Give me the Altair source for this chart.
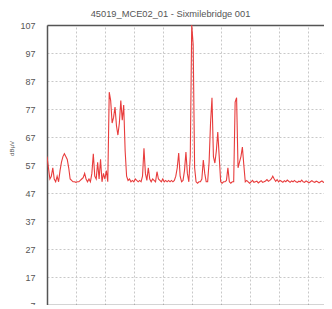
import altair as alt
import pandas as pd

TITLE = "45019_MCE02_01 - Sixmilebridge 001"
Y_TICKS = [7, 17, 27, 37, 47, 57, 67, 77, 87, 97, 107]

level_dbuv = [
    60, 56, 52, 53, 56, 52, 51, 53, 51, 55,
    58, 60, 61, 60, 59, 56, 52, 51.5, 51, 51,
    50.8, 51, 51, 51.5, 52, 52.5, 54, 52, 51, 52,
    51, 54, 61, 53, 52, 58, 52, 59, 51, 54,
    52, 55, 51, 83, 80, 72, 74, 77.7, 71, 67.7,
    72, 80, 73, 78.4, 62, 53, 51.5, 52, 51, 51.5,
    51, 52, 51.5, 51, 51.5, 51, 53, 63, 54, 51.5,
    56, 52, 51, 52, 51.5, 51, 54.6, 52, 51.5, 51,
    52, 51, 51.5, 51, 51.5, 51, 51.5, 51, 51.5, 53,
    56, 61.3, 53, 51, 51.5, 55, 61.6, 54, 51, 60,
    107, 100, 56, 51, 50.5, 51, 51, 52, 58.8, 54,
    51, 51, 58, 72, 81, 60, 57.7, 62, 68.8, 60,
    51, 50.5, 51, 51, 51.5, 56, 51, 50.5, 51, 51,
    79.5, 81, 56, 58, 60, 63.4, 57, 51, 51.5, 51,
    50.5, 51, 51.5, 50.8, 51, 51.2, 50.6, 51, 51.4, 50.8,
    51, 51.3, 51.8, 51.2, 51.5, 52, 53, 52, 51.2, 51.8,
    51, 51.5, 51.2, 50.8, 51.4, 51, 51.6, 51.2, 50.8, 51.3,
    51, 51.5, 51, 50.8, 51.2, 51, 51.6, 51, 50.8, 51.3,
    51, 50.6, 51, 51.4, 51, 50.8, 51.2, 51, 50.6, 51,
    51.3, 50.8, 51, 51.5, 52, 51.2, 51.6, 51,
]
sample = list(range(len(level_dbuv)))

df = pd.DataFrame({"sample": sample, "level": level_dbuv})

GRID = dict(grid=True, gridColor="#c8c8c8", gridDash=[2, 2], gridWidth=1)
DOMAIN = dict(domain=True, domainColor="#555555", domainWidth=1.5)

x_scale = alt.Scale(domain=[0, 191.4], nice=False, zero=False)
y_scale = alt.Scale(domain=[7, 107], nice=False, zero=False)

y_enc = alt.Y(
    "level:Q",
    scale=y_scale,
    title="dBµV",
    axis=alt.Axis(
        values=Y_TICKS,
        ticks=False,
        labelPadding=12,
        labelFontSize=9,
        labelColor="#555555",
        labelFont="Liberation Sans",
        titleFontSize=6,
        titleFont="Liberation Sans",
        titleColor="#555555",
        titleFontWeight="normal",
        titleX=-33,
        titleY=123,
        titleAngle=270,
        **GRID,
        **DOMAIN,
    ),
)

line_top = alt.Chart(df).mark_line(color="#e83c3c", strokeWidth=1.1, clip=True).encode(
    x=alt.X(
        "sample:Q",
        scale=x_scale,
        title=None,
        axis=alt.Axis(orient="top", labels=False, ticks=False,
                      values=list(range(0, 191, 20)), **GRID, **DOMAIN),
    ),
    y=y_enc,
)

line_bottom = alt.Chart(df).mark_line(opacity=0, clip=True).encode(
    x=alt.X(
        "sample:Q",
        scale=x_scale,
        title=None,
        axis=alt.Axis(orient="bottom", labels=False, ticks=False, grid=False, **DOMAIN),
    ),
    y=y_enc,
)

chart = (
    alt.layer(line_top, line_bottom)
    .resolve_axis(x="independent")
    .properties(
        width=277,
        height=280,
        title=alt.TitleParams(
            TITLE, fontSize=9.3, font="Liberation Sans", fontWeight="normal",
            color="#555555", anchor="middle", dx=-15, offset=2,
        ),
        autosize=alt.AutoSizeParams(type="none"),
        padding={"left": 39, "top": 17, "right": 0, "bottom": 0},
    )
    .configure_view(stroke=None)
)

chart.save("out.html", embed_options={"renderer": "svg", "actions": False})
